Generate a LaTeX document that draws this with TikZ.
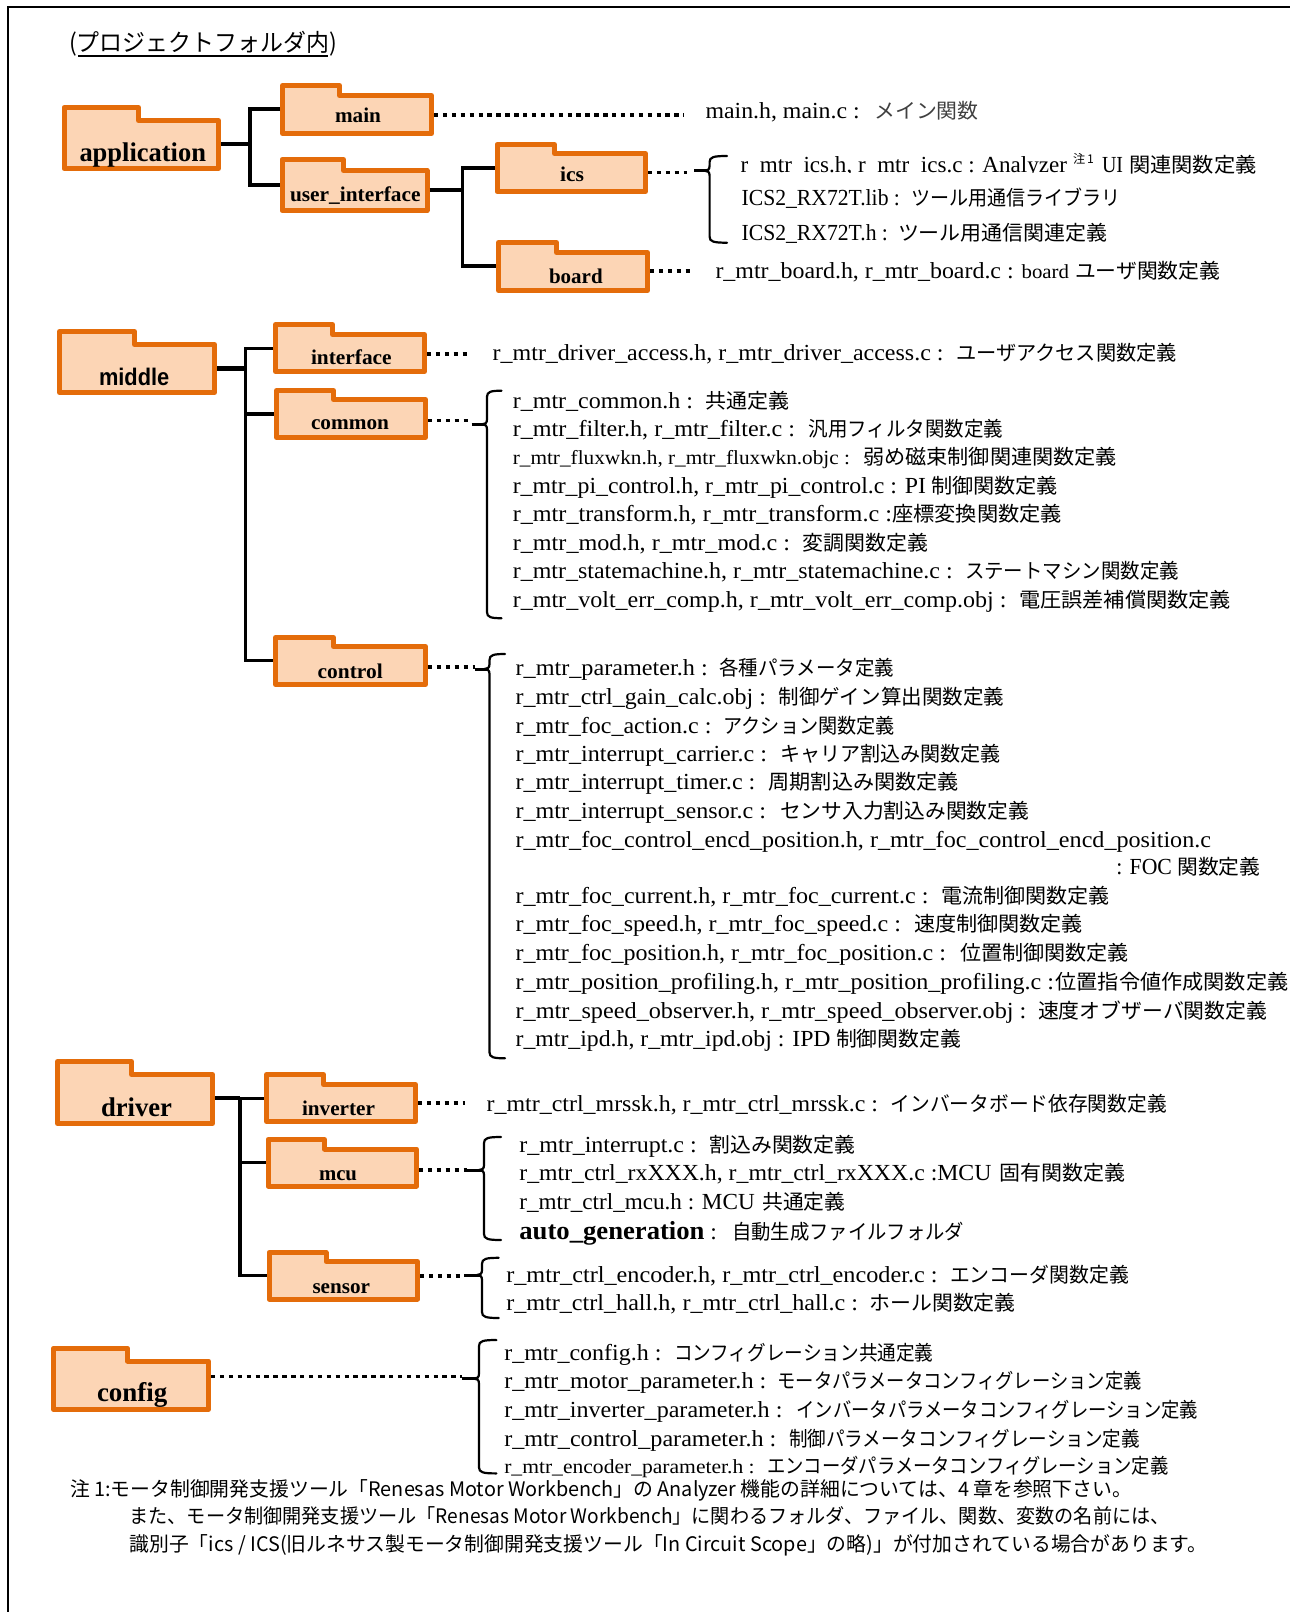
\documentclass[tikz,border=0pt]{standalone}
\usepackage{fontspec}
\usepackage{graphicx}
\setmainfont{Liberation Serif}
\newfontfamily\cj{Noto Sans CJK JP}
\newfontfamily\gothb{Liberation Sans}
\definecolor{fedge}{HTML}{E46C0A}
\definecolor{ffill}{HTML}{FCD5B5}
\tikzset{
 folderbox/.style={draw=fedge,fill=ffill,line width=5pt,line join=round},
 tree/.style={draw=black,line width=3.4pt},
 stub/.style={draw=black,line width=4.4pt},
 dots/.style={draw=black,line width=3.6pt,dash pattern=on 4.4pt off 4.5pt},
 bracel/.style={draw=black,line width=2.2pt,line cap=round},
 tx/.style={inner sep=0pt,outer sep=0pt,anchor=base west},
}
\newlength\wa \newlength\wb \newlength\wc
\newcount\lnno
% latin and cjk part, with their measured extents
\newcommand\fl[7]{\global\advance\lnno by 1
 \wa=\dimexpr#3pt-#1pt\relax \wb=\dimexpr#5pt-#3pt\relax \wc=\dimexpr#6pt-#5pt\relax
 \node[tx] (t\the\lnno) at (#1,#2+0.7) {\fontsize{23}{25}\selectfont\resizebox{\wa}{\height}{#4}\hspace*{\wb}\resizebox{\wc}{\height}{\cj\fontsize{20.5}{24}\selectfont #7}};}
\newcommand\flx[4]{\global\advance\lnno by 1
 \wa=\dimexpr#3pt-#1pt\relax
 \node[tx] (t\the\lnno) at (#1,#2+0.7) {\fontsize{23}{25}\selectfont\resizebox{\wa}{\height}{#4}};}
\newcommand\folder[8]{%
 \draw[folderbox] (#2+2.5,#7-2.5) -- (#2+2.5,#3+2.5) -- (#4-2.5,#3+2.5) -- (#4-2.5,#5+2.5) -- (#6-2.5,#5+2.5) -- (#6-2.5,#7-2.5) -- cycle;
 \wa=\dimexpr#6pt-#2pt\relax \wb=\dimexpr#7pt-#3pt\relax
 \node[inner sep=0pt,outer sep=0pt,minimum width=\wa,minimum height=\wb] (#1) at ({(#2+#6)/2},{(#3+#7)/2}) {};}
\newcommand\flab[6]{\wa=\dimexpr#4pt-#3pt\relax
 \node[tx] (#1-l) at (#3,#5+0.7) {\fontsize{#6}{#6}\selectfont\resizebox{\wa}{\height}{\bfseries #2}};}
% xe, ytop, x, ymid, ybot, xtip
\newcommand\brc[6]{%
 \draw[bracel] (#1,#2) .. controls (#3+4,#2) and (#3,#2+1) .. (#3,#2+6) -- (#3,#4-5) .. controls (#3,#4-1) and (#3-2,#4) .. (#3-5,#4) .. controls (#3-2,#4) and (#3,#4+1) .. (#3,#4+5) -- (#3,#5-6) .. controls (#3,#5-1) and (#3+4,#5) .. (#1,#5);
 \draw[black,line width=3pt] (#6,#4) -- (#3-3,#4);}
\begin{document}
\begin{tikzpicture}[x=1pt,y=-1pt]
\useasboundingbox (0,0) rectangle (1290,1612);
% page frame
\coordinate (fa) at (7.6,1612); \coordinate (fb) at (7.6,6.8); \coordinate (fc) at (1290,6.8);
\draw[black,line width=2pt] (fa) -- (fb) -- (fc);
% title
\node[tx] (title) at (69,51.7) {\resizebox{268pt}{\height}{\cj\fontsize{24}{26}\selectfont (プロジェクトフォルダ内)}};
\coordinate (ula) at (78,56); \coordinate (ulb) at (328,56);
\draw[black,line width=2pt] (ula) -- (ulb);
% folders
\folder{app}{61.6}{105}{141}{118}{221}{171}{}
\folder{main}{280}{83}{342}{93}{434}{136}{}
\folder{ui}{279.5}{157}{346}{168}{429.5}{213}{}
\folder{ics}{494.6}{142}{557}{151}{648}{194}{}
\folder{board}{496}{240}{559}{250}{650}{293}{}
\folder{middle}{57}{329}{137}{342}{217}{395}{}
\folder{interface}{273}{322}{335}{332}{427}{374}{}
\folder{common}{274}{388}{336}{397}{428}{440}{}
\folder{control}{273}{635}{336}{644}{428}{687}{}
\folder{driver}{55}{1059}{134}{1072}{215}{1126}{}
\folder{inverter}{264}{1072}{326}{1082}{418}{1124}{}
\folder{mcu}{265.6}{1137}{327}{1146.5}{419}{1188.5}{}
\folder{sensor}{266.5}{1250}{328.6}{1259}{420}{1301.6}{}
\folder{config}{51}{1345.7}{130}{1358.5}{211}{1411.8}{}
% folder labels
\flab{app}{application}{79.5}{206}{161}{27}
\flab{main}{main}{335}{381}{121.7}{21}
\flab{ui}{user\_interface}{290}{420.5}{201}{21}
\flab{ics}{ics}{560}{584}{181}{21}
\flab{board}{board}{549}{602.7}{282.3}{21}
\flab{middle}{\gothb middle}{99}{169.3}{384.3}{24}
\flab{interface}{interface}{311}{391.7}{364}{21}
\flab{common}{common}{311}{389}{428.3}{21}
\flab{control}{control}{317.7}{382.7}{677.7}{21}
\flab{driver}{driver}{101}{172}{1116}{27}
\flab{inverter}{inverter}{302}{375}{1114.8}{21}
\flab{mcu}{mcu}{319}{357}{1179.4}{21}
\flab{sensor}{sensor}{312.5}{370}{1292.5}{21}
\flab{config}{config}{97}{167.4}{1401}{27}
% tree connectors
\coordinate (ja) at (250,144); \coordinate (jb) at (250,109); \coordinate (jc) at (250,185);
\draw[stub] (app.east |- ja) -- (ja);
\draw[tree] (main.west |- jb) -- (jb) -- (jc) -- (ui.west |- jc);
\coordinate (jd) at (462.5,190); \coordinate (je) at (462.5,168); \coordinate (jf) at (462.5,266);
\draw[stub] (ui.east |- jd) -- (jd);
\draw[tree] (ics.west |- je) -- (je) -- (jf) -- (board.west |- jf);
\coordinate (jg) at (245.7,368.3); \coordinate (jh) at (245.7,348.3); \coordinate (ji) at (245.7,414); \coordinate (jj) at (245.7,660.3);
\draw[stub] (middle.east |- jg) -- (jg);
\draw[tree] (interface.west |- jh) -- (jh) -- (jj) -- (control.west |- jj);
\draw[tree] (ji) -- (common.west |- ji);
\coordinate (jk) at (240,1098.2); \coordinate (jl) at (240,1162.6); \coordinate (jm) at (240,1275.7);
\draw[stub] (driver.east |- jk) -- (jk);
\draw[tree] (jk) -- (jm) -- (sensor.west |- jm);
\draw[tree] (jk) -- (inverter.west |- jk);
\draw[tree] (jl) -- (mcu.west |- jl);
% dotted leaders
\coordinate (da) at (684,114.7); \draw[dots] (main.east |- da) -- (da);
\coordinate (db) at (687,172.3); \draw[dots] (ics.east |- db) -- (db);
\coordinate (dc) at (692,271); \draw[dots] (board.east |- dc) -- (dc);
\coordinate (dd) at (471,353.7); \draw[dots] (interface.east |- dd) -- (dd);
\coordinate (de) at (472.3,420.3); \draw[dots] (common.east |- de) -- (de);
\coordinate (df) at (475,666.7); \draw[dots] (control.east |- df) -- (df);
\coordinate (dg) at (465,1103); \draw[dots] (inverter.east |- dg) -- (dg);
\coordinate (dh) at (466.5,1170); \draw[dots] (mcu.east |- dh) -- (dh);
\coordinate (di) at (464,1275.7); \draw[dots] (sensor.east |- di) -- (di);
\coordinate (dj) at (462,1376.4); \draw[dots] (config.east |- dj) -- (dj);
% braces
\brc{727}{156}{709.6}{170.7}{242.7}{694}
\brc{501.5}{390.7}{487}{424.3}{618.2}{471.7}
\brc{505}{654}{489.5}{669}{1058.3}{475}
\brc{501}{1137}{484}{1170}{1240}{465}
\brc{498.7}{1257.8}{482}{1275}{1318}{464}
\brc{496.4}{1340}{479}{1378.6}{1473.4}{462}
% file lines
\fl{705.5}{117.7}{859.7}{main.h, main.c :}{874.2}{978.7}{\color{black!75}メイン関数}
\flx{740.7}{172}{1067}{r\_mtr\_ics.h, r\_mtr\_ics.c : Analyzer}
\node[tx] (sup) at (1073,163) {\resizebox{21pt}{\height}{\cj\fontsize{12}{14}\selectfont 注\,1}};
\flx{1102}{172}{1123}{UI}
\node[tx] (icsj) at (1129,172.7) {\resizebox{127.5pt}{\height}{\cj\fontsize{20.5}{24}\selectfont 関連関数定義}};
\fill[white] (730,173.4) rectangle (1127,182);
\fl{741.6}{205}{900}{ICS2\_RX72T.lib :}{911.6}{1121}{ツール用通信ライブラリ}
\fl{741.6}{239.3}{888}{ICS2\_RX72T.h :}{898}{1107.7}{ツール用通信関連定義}
\fl{715.5}{277.3}{1069}{r\_mtr\_board.h, r\_mtr\_board.c : {\fontsize{20}{22}\selectfont board}}{1075}{1220.4}{ユーザ関数定義}
\fl{492.7}{360}{943.5}{r\_mtr\_driver\_access.h, r\_mtr\_driver\_access.c :}{956}{1177}{ユーザアクセス関数定義}
\fl{512.8}{407.3}{693}{r\_mtr\_common.h :}{705}{789}{共通定義}
\fl{512.8}{435.7}{795}{r\_mtr\_filter.h, r\_mtr\_filter.c :}{808.5}{1003}{汎用フィルタ関数定義}
\fl{512.8}{464}{850}{\fontsize{20}{22}\selectfont r\_mtr\_fluxwkn.h, r\_mtr\_fluxwkn.objc :}{863}{1117}{弱め磁束制御関連関数定義}
\fl{512.8}{492.7}{926}{r\_mtr\_pi\_control.h, r\_mtr\_pi\_control.c : PI}{931}{1058}{制御関数定義}
\fl{512.8}{521}{892}{r\_mtr\_transform.h, r\_mtr\_transform.c :}{892}{1062}{座標変換関数定義}
\fl{512.8}{549.3}{790}{r\_mtr\_mod.h, r\_mtr\_mod.c :}{802.5}{928}{変調関数定義}
\fl{512.8}{578}{952.6}{r\_mtr\_statemachine.h, r\_mtr\_statemachine.c :}{965}{1179}{ステートマシン関数定義}
\fl{512.8}{606.7}{1006.5}{r\_mtr\_volt\_err\_comp.h, r\_mtr\_volt\_err\_comp.obj :}{1019}{1231}{電圧誤差補償関数定義}
\fl{515.6}{674.3}{707.7}{r\_mtr\_parameter.h :}{719.4}{894}{各種パラメータ定義}
\fl{515.6}{703.3}{766}{r\_mtr\_ctrl\_gain\_calc.obj :}{778.7}{1004.2}{制御ゲイン算出関数定義}
\fl{515.6}{732.3}{711.5}{r\_mtr\_foc\_action.c :}{723.6}{895}{アクション関数定義}
\fl{515.6}{760.7}{767}{r\_mtr\_interrupt\_carrier.c :}{780.3}{1001}{キャリア割込み関数定義}
\fl{515.6}{789}{755.4}{r\_mtr\_interrupt\_timer.c :}{768.6}{959}{周期割込み関数定義}
\fl{515.6}{817.7}{766}{r\_mtr\_interrupt\_sensor.c :}{780}{1029}{センサ入力割込み関数定義}
\flx{515.6}{846.7}{1211}{r\_mtr\_foc\_control\_encd\_position.h, r\_mtr\_foc\_control\_encd\_position.c}
\fl{1116.4}{874}{1172}{: FOC}{1177.3}{1260.4}{関数定義}
\fl{515.6}{902.7}{928.5}{r\_mtr\_foc\_current.h, r\_mtr\_foc\_current.c :}{941.7}{1110}{電流制御関数定義}
\fl{515.6}{931}{901}{r\_mtr\_foc\_speed.h, r\_mtr\_foc\_speed.c :}{914}{1083}{速度制御関数定義}
\fl{515.6}{959.3}{946}{r\_mtr\_foc\_position.h, r\_mtr\_foc\_position.c :}{960}{1128.6}{位置制御関数定義}
\fl{515.6}{988.3}{1054}{r\_mtr\_position\_profiling.h, r\_mtr\_position\_profiling.c :}{1055.5}{1288.5}{位置指令値作成関数定義}
\fl{515.6}{1017.3}{1026.4}{r\_mtr\_speed\_observer.h, r\_mtr\_speed\_observer.obj :}{1038}{1267.3}{速度オブザーバ関数定義}
\fl{515.6}{1045.7}{830.6}{r\_mtr\_ipd.h, r\_mtr\_ipd.obj : IPD}{836}{961}{制御関数定義}
\fl{486.7}{1111}{878}{r\_mtr\_ctrl\_mrssk.h, r\_mtr\_ctrl\_mrssk.c :}{890.7}{1166.8}{インバータボード依存関数定義}
\fl{519.4}{1151.7}{696.8}{r\_mtr\_interrupt.c :}{709.4}{855.5}{割込み関数定義}
\fl{519.4}{1180}{991.5}{r\_mtr\_ctrl\_rxXXX.h, r\_mtr\_ctrl\_rxXXX.c :MCU}{999}{1125}{固有関数定義}
\fl{519.4}{1209}{754.7}{r\_mtr\_ctrl\_mcu.h : MCU}{762.3}{845.4}{共通定義}
\fl{519.4}{1238.3}{717}{{\bfseries\fontsize{26}{28}\selectfont auto\_generation} :}{732}{964}{自動生成ファイルフォルダ}
\fl{506.3}{1281.7}{937.6}{r\_mtr\_ctrl\_encoder.h, r\_mtr\_ctrl\_encoder.c :}{950}{1129}{エンコーダ関数定義}
\fl{506.3}{1310}{858}{r\_mtr\_ctrl\_hall.h, r\_mtr\_ctrl\_hall.c :}{869.6}{1015.7}{ホール関数定義}
\fl{504.3}{1359.3}{661.5}{r\_mtr\_config.h :}{674}{933.5}{コンフィグレーション共通定義}
\fl{504.3}{1388}{766.3}{r\_mtr\_motor\_parameter.h :}{777.4}{1141.6}{モータパラメータコンフィグレーション定義}
\fl{504.3}{1417}{782.4}{r\_mtr\_inverter\_parameter.h :}{796.5}{1198}{インバータパラメータコンフィグレーション定義}
\fl{504.3}{1445.3}{776.4}{r\_mtr\_control\_parameter.h :}{789}{1140}{制御パラメータコンフィグレーション定義}
\fl{504.3}{1473}{754.7}{\fontsize{20}{22}\selectfont r\_mtr\_encoder\_parameter.h :}{767.3}{1168.5}{エンコーダパラメータコンフィグレーション定義}
% note
\node[tx] (n1) at (70,1496) {\resizebox{1062pt}{\height}{\cj\fontsize{20}{22}\selectfont 注 1:モータ制御開発支援ツール「Renesas Motor Workbench」の Analyzer 機能の詳細については、4 章を参照下さい。}};
\node[tx] (n2) at (129.5,1523.4) {\resizebox{1040pt}{\height}{\cj\fontsize{20}{22}\selectfont また、モータ制御開発支援ツール「Renesas Motor Workbench」に関わるフォルダ、ファイル、関数、変数の名前には、}};
\node[tx] (n3) at (129.5,1551.3) {\resizebox{1078pt}{\height}{\cj\fontsize{20}{22}\selectfont 識別子「ics / ICS(旧ルネサス製モータ制御開発支援ツール「In Circuit Scope」の略)」が付加されている場合があります。}};
\end{tikzpicture}
\end{document}
